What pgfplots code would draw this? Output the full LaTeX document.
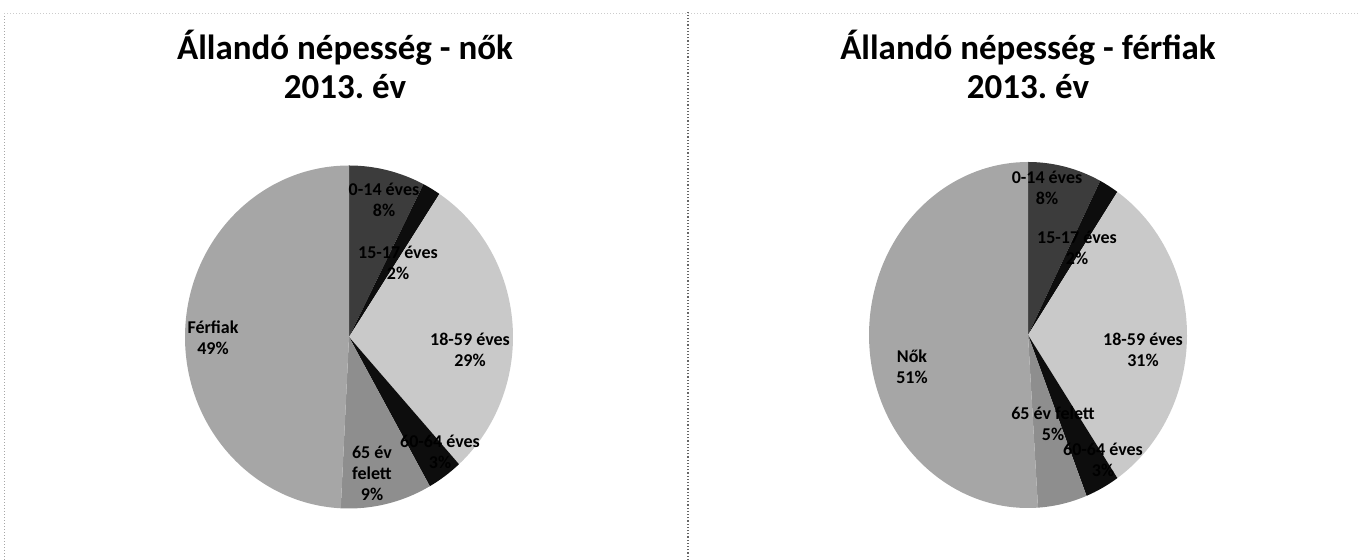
\documentclass[border=0pt]{standalone}
\usepackage{pgfplots}
\pgfplotsset{compat=1.18}
\usepackage{pgfplotstable}
\usepackage{fontspec}
\setmainfont{Carlito}
\frenchspacing

% pie slices: start (cumulative %), share (%), darkness (% black)
\pgfplotstableread{
x y from pct k
0 0 0    7.5  76.5
0 0 7.5  1.8  95
0 0 9.3  29   21
0 0 38.3 3.5  95
0 0 41.8 9    44.3
0 0 50.8 49.2 35
}\noktable

\pgfplotstableread{
x y from pct k
0 0 0    7.5  76.5
0 0 7.5  2    95
0 0 9.5  31   21
0 0 40.5 3.5  95
0 0 44   5    44.3
0 0 49   51   35
}\ferfitable

\pgfdeclareplotmark{nothing}{}

\pgfplotsset{
  pie/.style={
    only marks, scatter, mark=nothing,
    point meta=\thisrow{pct},
    visualization depends on={\thisrow{from} \as \pfrom},
    visualization depends on={\thisrow{pct} \as \ppct},
    visualization depends on={\thisrow{k} \as \pk},
    scatter/@pre marker code/.code={%
      \path[fill=black!\pk, draw=none] (0pt,0pt) -- ({90-3.6*\pfrom}:{\pieRx} and {\pieRy})
        arc[start angle={90-3.6*\pfrom}, end angle={90-3.6*(\pfrom+\ppct)},
            x radius=\pieRx, y radius=\pieRy] -- cycle;
    },
    scatter/@post marker code/.code={},
  },
  pieaxis/.style={
    anchor=center, width=200pt, height=200pt, scale only axis,
    xmin=-1, xmax=1, ymin=-1, ymax=1, hide axis, clip=false,
  },
}

\begin{document}
\begin{tikzpicture}[x=0.5pt, y=0.5pt]
\useasboundingbox (0,0) rectangle (1359,560);

% panel frames
\draw[black!35, densely dotted, line width=0.5pt] (4,0) -- (4,546);
\draw[black!20, densely dotted, line width=0.5pt] (4,546) -- (1359,546);
\draw[black!60, densely dotted, line width=0.6pt] (688,0) -- (688,550);

\def\pieRx{82pt}\def\pieRy{85.75pt}
\begin{axis}[pieaxis, at={(174.5pt,111.5pt)}]
\addplot[pie] table[x=x, y=y] {\noktable};
\end{axis}

\def\pieRx{79.5pt}\def\pieRy{86.5pt}
\begin{axis}[pieaxis, at={(514pt,112.5pt)}]
\addplot[pie] table[x=x, y=y] {\ferfitable};
\end{axis}

\tikzset{ttl/.style={font=\fontsize{17.5}{19.5}\selectfont\bfseries, align=center},
         lbl/.style={font=\fontsize{9}{10.5}\selectfont\bfseries, align=center, inner sep=0pt}}

\node[ttl] at (345,496) {Állandó népesség - nők\\2013. év};
\node[ttl] at (1028,496) {Állandó népesség - férfiak\\2013. év};

% labels, left
\node[lbl] at (384,360) {0-14 éves\\8\%};
\node[lbl] at (398,297) {15-17 éves\\2\%};
\node[lbl] at (470,210) {18-59 éves\\29\%};
\node[lbl] at (440,108) {60-64 éves\\3\%};
\node[lbl] at (372,87) {65 év\\felett\\9\%};
\node[lbl] at (213,222) {Férfiak\\49\%};

% labels, right
\node[lbl] at (1047,372) {0-14 éves\\8\%};
\node[lbl] at (1077,312) {15-17 éves\\2\%};
\node[lbl] at (1143,210) {18-59 éves\\31\%};
\node[lbl] at (1103,100) {60-64 éves\\3\%};
\node[lbl] at (1053,136) {65 év felett\\5\%};
\node[lbl] at (912,193) {Nők\\51\%};
\end{tikzpicture}
\end{document}
